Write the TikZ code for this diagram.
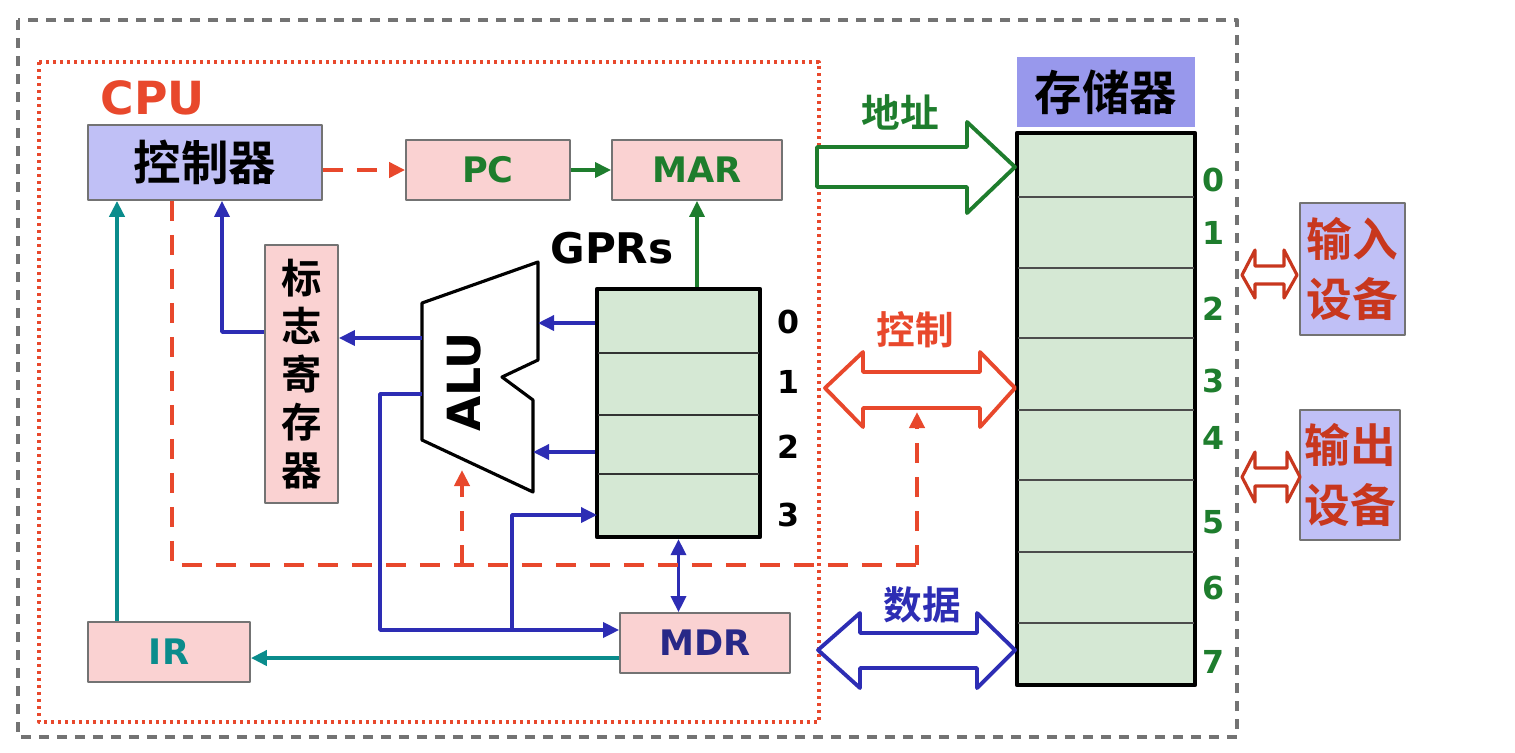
\documentclass[tikz,border=0pt]{standalone}
\usepackage{fontspec}
\setmainfont{DejaVu Sans}
\newfontfamily\cjk{Noto Sans CJK SC}[BoldFont={* Bold}]
\usetikzlibrary{arrows.meta}

\definecolor{ctrlblue}{RGB}{192,192,246}
\definecolor{memblue}{RGB}{152,152,236}
\definecolor{regpink}{RGB}{250,210,210}
\definecolor{cellgreen}{RGB}{213,232,212}
\definecolor{busred}{RGB}{232,72,44}
\definecolor{busgreen}{RGB}{30,125,45}
\definecolor{busblue}{RGB}{45,45,180}
\definecolor{irteal}{RGB}{10,140,140}
\definecolor{mdrnavy}{RGB}{40,40,135}
\definecolor{devred}{RGB}{200,55,30}

\begin{document}
\begin{tikzpicture}[x=0.1mm, y=-0.1mm, line join=round,
    reg/.style={draw=black!55, line width=0.5pt, fill=regpink, inner sep=0pt, font=\bfseries\fontsize{10}{12}\selectfont},
    cell/.style={draw=black, line width=1.2pt, fill=cellgreen, inner sep=0pt},
    cjkbox/.style={draw=black!55, line width=0.5pt, inner sep=0pt, align=center},
    buslbl/.style={font=\cjk\bfseries\fontsize{11}{13}\selectfont},
    num/.style={font=\bfseries\fontsize{9}{10}\selectfont},
    tip/.style={-{Triangle[length=1.6mm,width=1.5mm]}},
    dtip/.style={{Triangle[length=1.6mm,width=1.5mm]}-{Triangle[length=1.6mm,width=1.5mm]}},
    dataflow/.style={tip, draw=busblue, line width=1pt},
    ctrlline/.style={draw=busred, line width=1.4pt, dash pattern=on 2mm off 1.4mm},
    ctrlflow/.style={ctrlline, tip},
    addrflow/.style={tip, draw=busgreen, line width=0.9pt},
    irflow/.style={tip, draw=irteal, line width=1.4pt},
    bus/.style={line width=1.1pt, fill=white}]

    % Picture size, in pixels of the reference
    \useasboundingbox (0,0) rectangle (1515,752);

    % Whole machine and CPU frames
    \draw[black!55, line width=1.1pt, dash pattern=on 1mm off 0.8mm] (18,20) rectangle (1237,737);
    \draw[busred, line width=0.9pt, dash pattern=on 0.3mm off 0.4mm] (39,62) rectangle (819,722);
    \node[font=\bfseries\fontsize{13}{15}\selectfont, text=busred] (cpu) at (153,98) {CPU};

    % CPU registers and controller
    \node[cjkbox, fill=ctrlblue, minimum width=23.4mm, minimum height=7.5mm, font=\cjk\bfseries\fontsize{13.5}{16}\selectfont] (ctrl) at (205,162.5) {控制器};
    \node[reg, text=busgreen, minimum width=16.4mm, minimum height=6mm] (pc) at (488,170) {PC};
    \node[reg, text=busgreen, minimum width=17mm, minimum height=6mm] (mar) at (697,170) {MAR};
    \node[cjkbox, fill=regpink, minimum width=7.3mm, minimum height=25.8mm, font=\cjk\bfseries\fontsize{11.5}{13.7}\selectfont] (flag) at (301.5,374) {标\\志\\寄\\存\\器};
    \node[reg, text=irteal, minimum width=16.2mm, minimum height=6mm] (ir) at (169,652) {IR};
    \node[reg, text=mdrnavy, minimum width=17mm, minimum height=6mm] (mdr) at (705,643) {MDR};

    % General purpose registers
    \node[cell, minimum width=16.3mm, minimum height=24.8mm] (gpr) at (678.5,413) {};
    \foreach \y in {353,415,474}
        \draw[black!80, line width=0.6pt] (598,\y) -- (759,\y);
    \foreach \n/\y in {0/322,1/382,2/447,3/515}
        \node[num] (reg\n) at (788,\y) {\n};
    \node[font=\bfseries\fontsize{12}{14}\selectfont] (gprs) at (612,248) {GPRs};

    % ALU outline with its notch
    \draw[black, line width=0.9pt, fill=white] (422,303) -- (538,262) -- (538,360) -- (502,377)
        -- (533,400) -- (533,492) -- (422,440) -- cycle;
    \node[rotate=90, font=\bfseries\fontsize{13}{15}\selectfont] (alu) at (464,382) {ALU};

    % Memory
    \node[fill=memblue, minimum width=17.8mm, minimum height=7mm, inner sep=0pt, font=\cjk\bfseries\fontsize{13.5}{16}\selectfont] (memhead) at (1106,92) {存储器};
    \node[cell, minimum width=17.8mm, minimum height=55.2mm] (mem) at (1106,409) {};
    \foreach \y in {197,268,338,410,480,552,623}
        \draw[black!70, line width=0.6pt] (1018,\y) -- (1194,\y);
    \foreach \n/\y in {0/180,1/233,2/309,3/381,4/438,5/522,6/588,7/662}
        \node[num, text=busgreen] (addr\n) at (1213,\y) {\n};

    % I/O devices
    \node[cjkbox, fill=ctrlblue, text=devred, minimum width=10.5mm, minimum height=13.2mm, font=\cjk\bfseries\fontsize{13}{17}\selectfont] (indev) at (1352.5,269) {输入\\设备};
    \node[cjkbox, fill=ctrlblue, text=devred, minimum width=10mm, minimum height=13mm, font=\cjk\bfseries\fontsize{13}{17}\selectfont] (outdev) at (1350,475) {输出\\设备};

    % Bend points of the connectors
    \coordinate (aluIn0) at (538,323);
    \coordinate (aluIn2) at (533,452);
    \coordinate (aluOut) at (422,338);
    \coordinate (aluRes) at (422,394);
    \coordinate (aluCtl) at (462,470);
    \coordinate (flagBend) at (222,332);
    \coordinate (irLine) at (117,658);
    \coordinate (ctlBend) at (172,565);
    \coordinate (ctlAlu) at (462,565);
    \coordinate (ctlBus) at (917,565);
    \coordinate (ctlTip) at (917,412);
    \coordinate (resBend) at (380,630);
    \coordinate (resSplit) at (512,630);
    \coordinate (reg3In) at (597,515);

    % Data paths inside the CPU
    \draw[addrflow] (pc) -- (mar);
    \draw[addrflow] (mar.south |- gpr.north) -- (mar.south);
    \draw[dataflow] (gpr.west |- aluIn0) -- (aluIn0);
    \draw[dataflow] (gpr.west |- aluIn2) -- (aluIn2);
    \draw[dataflow] (aluOut) -- (flag.east |- aluOut);
    \draw[dataflow] (flag.west |- flagBend) -- (flagBend) -- (ctrl.south -| flagBend);
    \draw[dataflow] (aluRes) -| (resBend) -- (mdr.west |- resBend);
    \draw[dataflow] (resSplit) |- (reg3In);
    \draw[dataflow, dtip] (gpr.south) -- (mdr.north -| gpr.south);
    \draw[irflow] (ir.north -| irLine) -- (ctrl.south -| irLine);
    \draw[irflow] (mdr.west |- irLine) -- (ir.east |- irLine);

    % Control signals (dashed)
    \draw[ctrlflow] (ctrl.east |- pc.west) -- (pc.west);
    \draw[ctrlline] (ctrl.south -| ctlBend) -- (ctlBend) -- (ctlBus);
    \draw[ctrlflow] (ctlBus) -- (ctlTip);
    \draw[ctrlflow] (ctlAlu) -- (aluCtl);

    % System buses
    \draw[bus, draw=busgreen] (817,147) -- (967,147) -- (967,122) -- (1015,167) -- (967,213) -- (967,187) -- (817,187) -- cycle;
    \draw[bus, draw=busred] (825,388) -- (863,352) -- (863,372) -- (980,372) -- (980,352) -- (1015,388)
        -- (980,427) -- (980,408) -- (863,408) -- (863,427) -- cycle;
    \draw[bus, draw=busblue] (818,650) -- (860,613) -- (860,633) -- (977,633) -- (977,613) -- (1015,650)
        -- (977,688) -- (977,668) -- (860,668) -- (860,688) -- cycle;
    \node[buslbl, text=busgreen] (addrlbl) at (900,112) {地址};
    \node[buslbl, text=busred] (ctllbl) at (915,330) {控制};
    \node[buslbl, text=busblue] (datalbl) at (922,605) {数据};

    % Links to the devices
    \draw[bus, draw=devred, line width=0.9pt] (1242,275) -- (1255,250) -- (1255,266) -- (1284,266) -- (1284,250) -- (1297,275)
        -- (1284,298) -- (1284,284) -- (1255,284) -- (1255,298) -- cycle;
    \draw[bus, draw=devred, line width=0.9pt] (1242,477) -- (1255,452) -- (1255,468) -- (1287,468) -- (1287,452) -- (1300,477)
        -- (1287,502) -- (1287,486) -- (1255,486) -- (1255,502) -- cycle;
\end{tikzpicture}
\end{document}
